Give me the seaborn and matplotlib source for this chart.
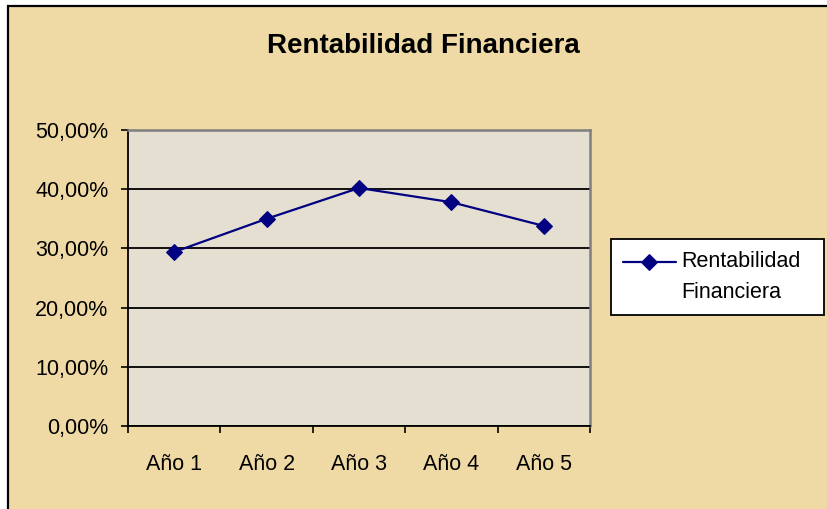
import pandas as pd
import seaborn as sns
import matplotlib.pyplot as plt
from matplotlib.patches import Rectangle
from matplotlib.ticker import FuncFormatter, FixedLocator
from matplotlib.legend_handler import HandlerLine2D

# datos
anios = ["Año 1", "Año 2", "Año 3", "Año 4", "Año 5"]
rentabilidad = [29.4, 35.0, 40.2, 37.8, 33.8]
y_ticks = [0, 10, 20, 30, 40, 50]
titulo = "Rentabilidad Financiera"
serie = "Rentabilidad\nFinanciera"

PAPEL = "#EFDAA5"
FONDO = "#E5DFD2"
AZUL = "#000080"


class HandlerPrimeraLinea(HandlerLine2D):
    # sube el marcador a la altura de la primera línea del texto
    def create_artists(self, legend, orig_handle, xdescent, ydescent,
                       width, height, fontsize, trans):
        shift = 0.72 * fontsize
        return super().create_artists(legend, orig_handle, xdescent,
                                      ydescent - 2 * shift, width, height,
                                      fontsize, trans)


def rentabilidad_financiera():
    sns.set_theme(style="white")
    plt.rcParams["font.family"] = ["Liberation Sans", "DejaVu Sans"]

    df = pd.DataFrame({"Año": anios, "Rentabilidad": rentabilidad})

    fig = plt.figure(figsize=(8.27, 5.09), dpi=100, facecolor="white")
    # marco del área del gráfico
    fig.patches.append(Rectangle((8 / 827, -0.1), 1.0, 1 - 6 / 509 + 0.1,
                                 transform=fig.transFigure, facecolor=PAPEL,
                                 edgecolor="black", linewidth=1.6, zorder=-1))

    ax = fig.add_axes([128 / 827, 83 / 509, 462 / 827, 296 / 509])
    ax.set_facecolor(FONDO)

    sns.lineplot(data=df, x="Año", y="Rentabilidad", ax=ax, color=AZUL,
                 linewidth=1.6, marker="D", markersize=8, markeredgecolor=AZUL,
                 label=serie)

    ax.set_ylim(0, 50)
    ax.set_xlim(-0.5, 4.5)
    ax.set_yticks(y_ticks)
    ax.yaxis.set_major_formatter(
        FuncFormatter(lambda v, _: f"{v:.2f}%".replace(".", ",")))
    ax.xaxis.set_minor_locator(FixedLocator([i - 0.5 for i in range(len(anios) + 1)]))
    ax.set_xlabel("")
    ax.set_ylabel("")

    ax.grid(axis="y", color="black", linewidth=1.3)
    ax.set_axisbelow(True)
    for s in ["left", "bottom"]:
        ax.spines[s].set_color("black")
        ax.spines[s].set_linewidth(1.3)
    for s in ["top", "right"]:
        ax.spines[s].set_color("#7F7F7F")
        ax.spines[s].set_linewidth(1.8)

    ax.tick_params(axis="y", which="major", direction="out", length=5,
                   width=1.2, color="black", left=True, pad=9,
                   labelsize=15.5, labelcolor="black")
    ax.tick_params(axis="x", which="major", length=0, pad=20,
                   labelsize=15.5, labelcolor="black")
    ax.tick_params(axis="x", which="minor", direction="out", length=5,
                   width=1.2, color="black", bottom=True)

    fig.text(423 / 827, 1 - 53 / 509, titulo, ha="center", va="baseline",
             fontsize=20, fontweight="bold", color="black")

    leg = ax.legend(loc="upper left",
                    bbox_to_anchor=(611 / 827, 1 - 317 / 509, 213 / 827, 78 / 509),
                    bbox_transform=fig.transFigure, mode="expand",
                    borderaxespad=0, fontsize=15.5, frameon=True, fancybox=False,
                    handlelength=2.45, handletextpad=0.28, borderpad=0.55,
                    handler_map={plt.Line2D: HandlerPrimeraLinea()})
    leg.get_frame().set_edgecolor("black")
    leg.get_frame().set_linewidth(1.3)
    leg.get_frame().set_facecolor("white")
    leg.get_frame().set_alpha(1)
    for t in leg.get_texts():
        t.set_linespacing(1.62)
        t.set_color("black")

    fig.savefig("out.png", dpi=100, facecolor=fig.get_facecolor())


if __name__ == "__main__":
    rentabilidad_financiera()
